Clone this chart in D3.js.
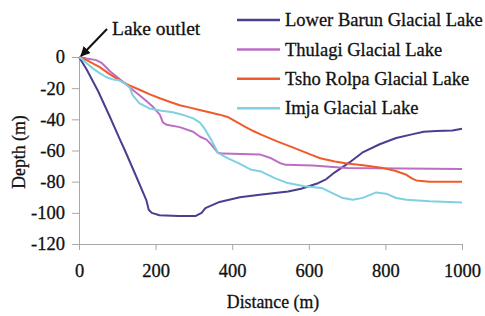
<!DOCTYPE html>
<html>
<head>
<meta charset="utf-8">
<script src="https://cdn.jsdelivr.net/npm/d3@7"></script>
<style>
	body { margin: 0; background: #fff; }
	.axis path, .axis line { stroke: #a8a8a8; }
</style>
</head>
<body>
<div id="chart-area"></div>
<script>
// Series names and colours
let lakeNames = ["Lower Barun Glacial Lake", "Thulagi Glacial Lake", "Tsho Rolpa Glacial Lake", "Imja Glacial Lake"];
let lakeColors = ["#4b3d8f", "#bb6ec4", "#f15a2b", "#7fd0e2"];

// [distance (m), depth (m)]
let lowerBarun = [[0,0],[20,-8],[50,-22],[80,-38],[107,-53],[120,-60],[150,-77],[176,-92],[182,-98],[190,-100],
	[210,-101.5],[260,-102],[305,-102],[320,-100],[330,-97],[367,-93],[420,-90],[472,-88.4],[546,-86.3],[580,-84.5],
	[624,-81],[645,-78.5],[668,-74],[707,-67.5],[742,-61],[785,-56],[828,-52],[872,-49.5],[900,-48],[933,-47.5],
	[975,-47.2],[1000,-46]];
let thulagi = [[0,0],[20,-1],[45,-2],[60,-4],[80,-9],[110,-15],[140,-21],[170,-27],[193,-32],[211,-37],[219,-42],
	[229,-43.5],[263,-45],[298,-48],[315,-51],[333,-53],[346,-56.4],[363,-61.5],[376,-62],[472,-62.5],[502,-65],
	[524,-68],[540,-69.2],[610,-69.6],[700,-71.2],[1000,-71.8]];
let tshoRolpa = [[0,0],[20,-2],[54,-6.5],[80,-11],[106,-15],[130,-18],[158,-21],[185,-24],[211,-26.5],[240,-29],
	[263,-31],[290,-32.5],[315,-34],[340,-35.5],[367,-37],[388,-38.5],[410,-41.5],[433,-44.7],[455,-47.5],[477,-50],
	[519,-54.3],[563,-58.5],[607,-62.8],[630,-65],[668,-67],[700,-68.3],[742,-69.5],[794,-71.3],[825,-73],[855,-75.6],
	[870,-78],[881,-79.2],[915,-80],[1000,-80]];
let imja = [[0,0],[6,-1],[20,-4],[36,-7.3],[55,-10.5],[72,-13],[90,-14.5],[106,-15],[120,-17],[132,-19.4],[140,-24.5],
	[158,-29.8],[184,-33],[215,-34.5],[245,-35.5],[270,-37],[298,-39.4],[315,-42],[328,-46],[346,-53.5],[363,-61.5],
	[389,-65],[415,-68],[450,-72.4],[476,-73.5],[511,-77.7],[545,-80.9],[589,-83],[633,-84],[659,-87],[689,-90.5],
	[715,-91.6],[741,-90.4],[776,-86.9],[802,-87.7],[828,-90.5],[855,-91.6],[915,-92.6],[1000,-93.3]];

let xTicks = [0, 200, 400, 600, 800, 1000];
let yTicks = [0, -20, -40, -60, -80, -100, -120];

let lakes = [lowerBarun, thulagi, tshoRolpa, imja];

const FONT = "Liberation Serif";

drawChart();

// text in the scan looks heavy, so give it a thin outline
function inkText(sel, size){
	return sel.attr("font-family", FONT)
		.attr("font-size", size)
		.attr("fill", "#111")
		.attr("stroke", "#111")
		.attr("stroke-width", 0.3);
}

function drawChart(){
	let width = 485,
		height = 316,
		margin = {top: 57, right: 23, bottom: 72, left: 79};

	let svg = d3.select("#chart-area").append("svg")
		.attr("width", width)
		.attr("height", height)
		.attr("font-family", FONT);

	let x = d3.scaleLinear()
		.domain([0, 1000])
		.range([margin.left, width - margin.right]);

	let y = d3.scaleLinear()
		.domain([0, -120])
		.range([margin.top, height - margin.bottom]);

	// plain numbers with ascii hyphen, like the original
	let fmt = d => String(d);

	// Axes
	svg.append("g")
		.attr("class", "axis x-axis")
		.attr("transform", "translate(0," + y(-120) + ")")
		.call(d3.axisBottom(x).tickValues(xTicks).tickFormat(fmt).tickSize(6).tickSizeOuter(0).tickPadding(14));

	svg.append("g")
		.attr("class", "axis y-axis")
		.attr("transform", "translate(" + x(0) + ",0)")
		.call(d3.axisLeft(y).tickValues(yTicks).tickFormat(fmt).tickSize(7).tickSizeOuter(0).tickPadding(7));

	svg.selectAll(".axis")
		.attr("font-family", FONT)
		.attr("font-size", 18.5);
	inkText(svg.selectAll(".axis text"), 18.5);

	// Lines
	let line = d3.line()
		.x(d => x(d[0]))
		.y(d => y(d[1]));

	svg.selectAll(".lake")
		.data(lakes)
		.enter()
		.append("path")
		.attr("class", "lake")
		.attr("d", line)
		.attr("fill", "none")
		.attr("stroke", (d, i) => lakeColors[i])
		.attr("stroke-width", 2)
		.attr("stroke-linejoin", "round");

	// Legend
	let legend = svg.selectAll(".legend")
		.data(lakeNames)
		.enter()
		.append("g")
		.attr("class", "legend")
		.attr("transform", (d, i) => "translate(237," + (20 + i * 29.4) + ")");

	legend.append("line")
		.attr("x1", 0)
		.attr("x2", 43)
		.attr("stroke", (d, i) => lakeColors[i])
		.attr("stroke-width", 2.5);

	inkText(legend.append("text"), 18.5)
		.attr("x", 48)
		.attr("dy", "0.33em")
		.text(d => d);

	// Lake outlet annotation
	svg.append("defs").append("marker")
		.attr("id", "arrow")
		.attr("viewBox", "0 0 10 10")
		.attr("refX", 9)
		.attr("refY", 5)
		.attr("markerWidth", 5)
		.attr("markerHeight", 5)
		.attr("orient", "auto")
		.append("path")
		.attr("d", "M0,0L10,5L0,10z")
		.attr("fill", "#111");

	svg.append("line")
		.attr("x1", x(0) + 28)
		.attr("y1", y(0) - 28)
		.attr("x2", x(0) + 2)
		.attr("y2", y(0) - 1)
		.attr("stroke", "#111")
		.attr("stroke-width", 2)
		.attr("marker-end", "url(#arrow)");

	inkText(svg.append("text"), 19.5)
		.attr("x", 112)
		.attr("y", 35)
		.text("Lake outlet");

	// Axis labels
	inkText(svg.append("text"), 17.8)
		.attr("x", 273)
		.attr("y", 308)
		.attr("text-anchor", "middle")
		.text("Distance (m)");

	inkText(svg.append("text"), 17.8)
		.attr("transform", "translate(25,152) rotate(-90)")
		.attr("text-anchor", "middle")
		.text("Depth (m)");
}
</script>
</body>
</html>
